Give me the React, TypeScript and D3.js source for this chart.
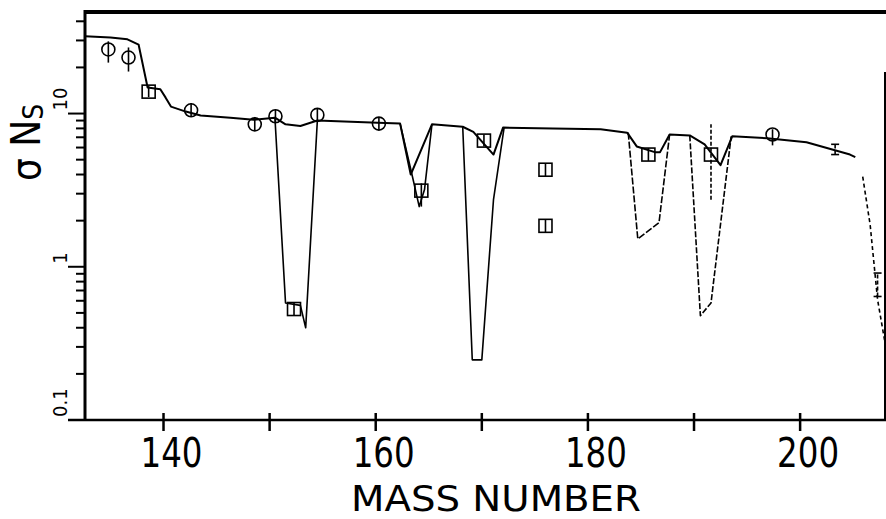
import React from 'react';
import * as d3 from 'd3';

// calculated curve (smooth branch with shallow notches)
const fitMass = [132.6, 135.0, 136.6, 137.65, 138.5, 139.7, 140.2, 140.7, 142.1, 143.5, 146.3, 148.5, 150.5, 151.5, 152.9, 154.5, 160.2, 162.3, 163.3, 165.3, 168.2, 169.2, 171.1, 172.0, 176.7, 181.2, 183.7, 184.6, 186.3, 186.8, 187.7, 189.6, 191.0, 192.5, 193.6, 196.9, 200.6, 204.7, 205.2];
const fitValue = [31.9, 31.4, 30.5, 28.2, 14.8, 14.4, 12.7, 11.1, 10.3, 9.7, 9.4, 9.1, 9.4, 8.5, 8.3, 9.0, 8.7, 8.6, 4.0, 8.5, 8.2, 7.6, 5.4, 8.1, 8.0, 7.9, 7.5, 6.1, 5.6, 5.6, 7.3, 7.2, 6.3, 4.6, 7.1, 6.9, 6.5, 5.4, 5.2];

// deep branches of the calculation
const dipAMass = [150.5, 151.5, 152.9, 153.4, 154.5];
const dipAValue = [9.4, 0.58, 0.56, 0.40, 9.0];
const dipBMass = [162.3, 163.4, 164.1, 164.6, 165.3];
const dipBValue = [8.6, 4.05, 2.47, 3.19, 8.5];
const dipCMass = [168.2, 169.1, 170.0, 171.1, 172.1];
const dipCValue = [8.2, 0.247, 0.247, 2.74, 8.1];
const dipDMass = [183.8, 184.7, 186.7, 187.7];
const dipDValue = [7.5, 1.52, 1.94, 7.3];
const dipEMass = [189.6, 190.6, 191.6, 193.5];
const dipEValue = [7.2, 0.48, 0.58, 7.1];
const tailMass = [205.9, 206.6, 207.3, 208.0];
const tailValue = [3.87, 1.88, 0.61, 0.32];

// measured points
const pointMass = [134.8, 136.7, 138.6, 142.6, 148.6, 150.55, 154.5, 160.3, 152.3, 164.3, 170.2, 176.0, 176.0, 185.7, 191.6, 197.4, 203.3, 207.3];
const pointValue = [26.2, 23.2, 13.9, 10.5, 8.5, 9.6, 9.8, 8.6, 0.53, 3.14, 6.66, 4.3, 1.85, 5.4, 5.4, 7.3, 5.8, 0.75];
const pointLow = [21.5, 18.8, 12.8, 9.5, 7.7, 8.7, 8.9, 7.8, 0.48, 2.47, 6.1, 3.9, 1.68, 4.9, 2.74, 6.2, 5.4, 0.64];
const pointHigh = [29.6, 27.0, 15.1, 11.7, 9.5, 10.6, 10.8, 9.5, 0.58, 3.5, 7.3, 4.7, 2.05, 5.95, 8.5, 7.9, 6.3, 0.91];
const pointShape = ['circle', 'circle', 'square', 'circle', 'circle', 'circle', 'circle', 'circle', 'square', 'square', 'square', 'square', 'square', 'square', 'square', 'circle', 'none', 'none'];

const xTicks = [140, 150, 160, 170, 180, 190, 200];
const xLabels = [140, 160, 180, 200];
const yLabels = [0.1, 1, 10];

export default function App() {
  const width = 886;
  const height = 519;
  const left = 85, right = 885, top = 12, bottom = 420;

  const x = d3.scaleLinear().domain([132.6, 208]).range([left, right]);
  const y = d3.scaleLog().domain([0.1, 46]).range([bottom, top]);

  const line = d3.line<[number, number]>()
    .x((d) => x(d[0]))
    .y((d) => y(d[1]));

  const zip = (m: number[], v: number[]) => m.map((d, i) => [d, v[i]] as [number, number]);

  const dips = [
    { d: zip(dipAMass, dipAValue), dash: null },
    { d: zip(dipBMass, dipBValue), dash: null },
    { d: zip(dipCMass, dipCValue), dash: null },
    { d: zip(dipDMass, dipDValue), dash: '7 2' },
    { d: zip(dipEMass, dipEValue), dash: '6 2' },
    { d: zip(tailMass, tailValue), dash: '4 3' },
  ];

  const yTicks = y.ticks();
  const font = "'DejaVu Sans Condensed', 'DejaVu Sans', sans-serif";

  return (
    <svg width={width} height={height} style={{ position: 'absolute', left: 0, top: 0, background: '#fff' }}>
      {/* frame */}
      <line x1={left} x2={width} y1={top} y2={top} stroke="#000" strokeWidth={4} />
      <line x1={right} x2={right} y1={72} y2={bottom} stroke="#000" strokeWidth={2} />
      <line x1={left} x2={left} y1={top - 2} y2={bottom + 1} stroke="#000" strokeWidth={3} />
      <line x1={68} x2={right + 1} y1={bottom} y2={bottom} stroke="#000" strokeWidth={2.5} />

      {/* y ticks */}
      {yTicks.map((t, i) => {
        const major = yLabels.includes(+t.toPrecision(3));
        return (
          <line key={i} x1={major ? 68 : 76} x2={left} y1={y(t)} y2={y(t)} stroke="#000" strokeWidth={2} />
        );
      })}
      {yLabels.map((t, i) => (
        <text key={i} transform={`translate(67, ${y(t) - 3}) rotate(-90)`} fontFamily={font} fontSize={20} fill="#000">
          {t}
        </text>
      ))}

      {/* x ticks */}
      {xTicks.map((t, i) => (
        <line key={i} x1={x(t)} x2={x(t)} y1={413} y2={431} stroke="#000" strokeWidth={2.5} />
      ))}
      {xLabels.map((t, i) => (
        <text key={i} x={x(t) + 8} y={467} textAnchor="middle" fontFamily={font} fontSize={41}
          textLength={62} lengthAdjust="spacingAndGlyphs" fill="#000">
          {t}
        </text>
      ))}

      {/* titles */}
      <text x={496} y={511} textAnchor="middle" fontFamily="'DejaVu Sans', sans-serif" fontSize={35}
        textLength={290} lengthAdjust="spacingAndGlyphs" fill="#000">
        MASS NUMBER
      </text>
      <text transform="translate(40, 181) rotate(-90)" fontFamily={font} fontSize={40} fill="#000">
        σ N<tspan fontSize={28} dy={3}>S</tspan>
      </text>

      {/* curves */}
      <path d={line(zip(fitMass, fitValue)) || ''} fill="none" stroke="#000" strokeWidth={2} strokeLinejoin="round" />
      {dips.map((s, i) => (
        <path key={i} d={line(s.d) || ''} fill="none" stroke="#000" strokeWidth={1.6}
          strokeDasharray={s.dash || undefined} strokeLinejoin="round" />
      ))}

      {/* measured points */}
      {pointMass.map((m, i) => {
        const cx = x(m);
        const cy = y(pointValue[i]);
        const shape = pointShape[i];
        return (
          <g key={i} stroke="#000" fill="none" strokeWidth={1.6}>
            <line x1={cx} x2={cx} y1={y(pointLow[i])} y2={y(pointHigh[i])}
              strokeDasharray={i === 14 || shape === 'none' ? '4 2' : undefined} />
            {shape === 'circle' && <circle cx={cx} cy={cy} r={6.5} />}
            {shape === 'square' && <rect x={cx - 6.5} y={cy - 6.5} width={13} height={13} />}
            {shape === 'none' && (
              <>
                <line x1={cx - 4} x2={cx + 4} y1={y(pointLow[i])} y2={y(pointLow[i])} />
                <line x1={cx - 4} x2={cx + 4} y1={y(pointHigh[i])} y2={y(pointHigh[i])} />
              </>
            )}
          </g>
        );
      })}
    </svg>
  );
}
